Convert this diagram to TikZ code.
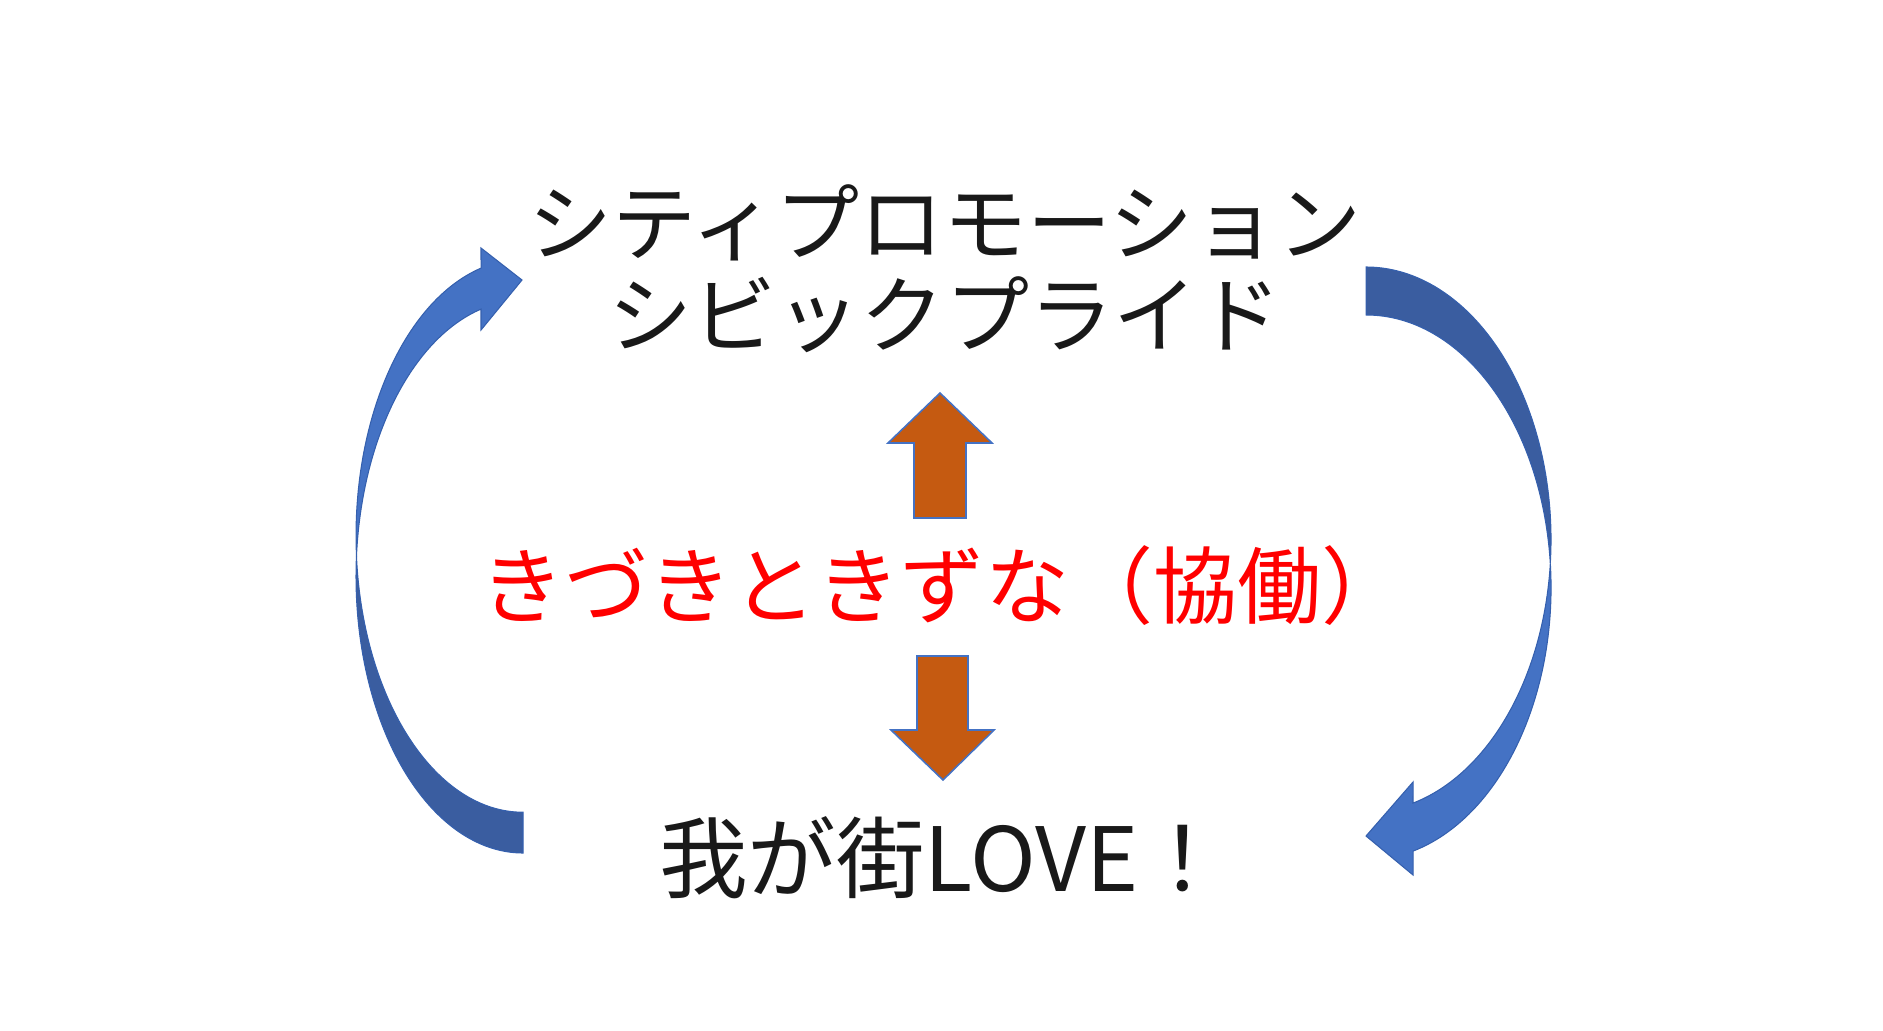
\documentclass[tikz,border=0pt]{standalone}
\usepackage{fontspec}
\setmainfont{Noto Sans CJK JP}
\usepackage{xcolor}
\usepackage{tikz}
\usetikzlibrary{calc}

\definecolor{arrowlight}{HTML}{4472C4}
\definecolor{arrowdark}{HTML}{3A5DA0}
\definecolor{arrowline}{HTML}{3560AE}
\definecolor{bondorange}{HTML}{C55A11}

\begin{document}
\begin{tikzpicture}[
    x=0.01cm, y=-0.01cm,
    jptext/.style={align=center, inner sep=0pt, text=black!90, font=\fontsize{23.9pt}{26.2pt}\selectfont},
    kizuna/.style={jptext, text=red},
    lovetext/.style={jptext, font=\fontsize{25.2pt}{27pt}\selectfont},
    cyclight/.style={fill=arrowlight, draw=arrowline, line width=0.3pt, line join=miter},
    cycdark/.style={fill=arrowdark, draw=arrowline, line width=0.3pt, line join=miter},
    bondarrow/.style={fill=bondorange, draw=arrowlight, line width=0.45pt, line join=miter},
]
\useasboundingbox (0,0) rectangle (1883,1030);

% ─── Texts ───
\node[jptext]   at (945, 269) (promo)  {シティプロモーション\\シビックプライド};
\node[kizuna]   at (943, 586) (kizuna) {きづきときずな（協働）};
\node[lovetext] at (943, 858) (love)   {我が街LOVE！};

% ─── Orange block arrows ───
\draw[bondarrow] (914,518) -- (914,443) -- (888,443) -- (940,393)
    -- (992,443) -- (966,443) -- (966,518) -- cycle;
\draw[bondarrow] (917,656) -- (968,656) -- (968,730) -- (994,730)
    -- (943,780) -- (891,730) -- (917,730) -- cycle;

% ─── Left curved arrow (up) ───
\draw[cycdark] (523,853)
    arc[start angle=90, end angle=184.23, x radius=167, y radius=276.4]
    arc[start angle=175.77, end angle=90, x radius=167, y radius=276.4]
    -- cycle;
\draw[cyclight] (356.5,556)
    arc[start angle=175.77, end angle=255.43, x radius=167, y radius=276.4]
    -- (481,248) -- (522,280) -- (481,330) -- (481,309.1)
    arc[start angle=255.43, end angle=184.23, x radius=167, y radius=276.4]
    -- cycle;

% ─── Right curved arrow (down) ───
\draw[cycdark] (1366,267)
    arc[start angle=-90, end angle=5.05, x radius=185, y radius=272.5]
    arc[start angle=-5.05, end angle=-90, x radius=185, y radius=272.5]
    -- cycle;
\draw[cyclight] (1550.3,563.5)
    arc[start angle=5.05, end angle=75.29, x radius=185, y radius=272.5]
    -- (1413,782) -- (1366,836) -- (1413,875) -- (1413,851.1)
    arc[start angle=75.29, end angle=-5.05, x radius=185, y radius=272.5]
    -- cycle;

\end{tikzpicture}
\end{document}
